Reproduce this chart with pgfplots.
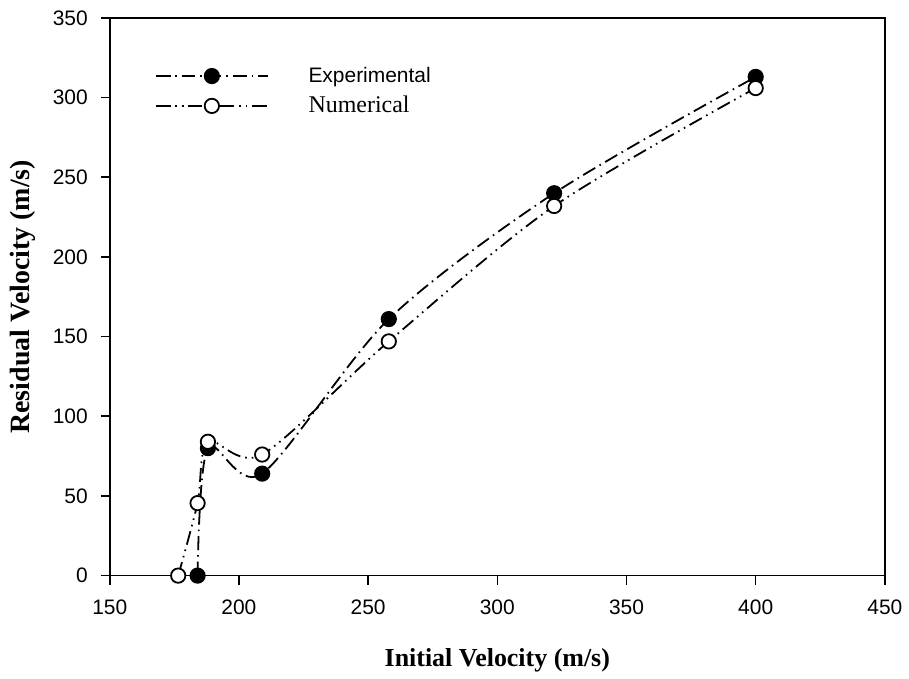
\documentclass[border=0pt]{standalone}
\usepackage{fontspec}
\setmainfont{Liberation Serif}
\setsansfont{Liberation Sans}
\usepackage{pgfplots}
\pgfplotsset{compat=1.18}
\begin{document}
\begin{tikzpicture}
\begin{axis}[
  scale only axis,
  width=388.5pt, height=279.5pt,
  xmin=150, xmax=450, ymin=0, ymax=350,
  xtick={150,200,...,450}, ytick={0,50,...,350},
  axis line style={line width=0.8pt},
  tick style={line width=0.8pt, black},
  tick align=outside,
  major tick length=4.5pt,
  xtick pos=bottom, ytick pos=left,
  /pgf/number format/assume math mode=true,
  ticklabel style={font=\sffamily\fontsize{10.5}{12}\selectfont},
  xticklabel style={yshift=-4pt},
  yticklabel style={xshift=-3pt},
  xlabel={\bfseries Initial Velocity (m/s)},
  ylabel={\bfseries Residual Velocity (m/s)},
  xlabel style={font=\fontsize{13}{15}\selectfont, yshift=-10pt},
  ylabel style={font=\fontsize{14}{16}\selectfont, yshift=2pt},
  legend style={draw=none, fill=none, at={(rel axis cs:0.058,0.92)}, anchor=north west,
    font=\fontsize{10.5}{12}\selectfont, row sep=1.5pt, inner sep=0pt},
  legend cell align=left,
  legend image code/.code={\draw[mark repeat=2,mark phase=2,#1] plot coordinates {(0pt,0pt) (28pt,0pt) (56pt,0pt)};},
  legend style={/tikz/every odd column/.append style={column sep=18pt}},
  clip=false,
]
\addplot[black, line width=0.9pt, smooth, tension=0.5,
  dash pattern=on 7pt off 2.5pt on 0.8pt off 2.5pt,
  mark=*, mark size=3.6pt, mark options={solid, fill=black}]
  coordinates {(184,0) (188,80) (209,64) (258,161) (322,240) (400,313)};
\addlegendentry{\sffamily Experimental}
\addplot[black, line width=0.9pt, smooth, tension=0.5,
  dash pattern=on 7pt off 2.5pt on 0.8pt off 2.5pt on 0.8pt off 2.5pt,
  mark=*, mark size=3.6pt, mark options={solid, fill=white, draw=black}]
  coordinates {(176.5,0) (184,45.5) (188,84) (209,76) (258,147) (322,232) (400,306)};
\addlegendentry{\fontsize{12}{14}\selectfont Numerical}
\coordinate (bl) at (rel axis cs:0,0);
\coordinate (tr) at (rel axis cs:1,1);
\end{axis}
\path (bl) ++(-55pt,-49pt) coordinate (BB1);
\path (tr) ++(11pt,9pt) coordinate (BB2);
\path[use as bounding box] (BB1) rectangle (BB2);
\end{tikzpicture}
\end{document}
